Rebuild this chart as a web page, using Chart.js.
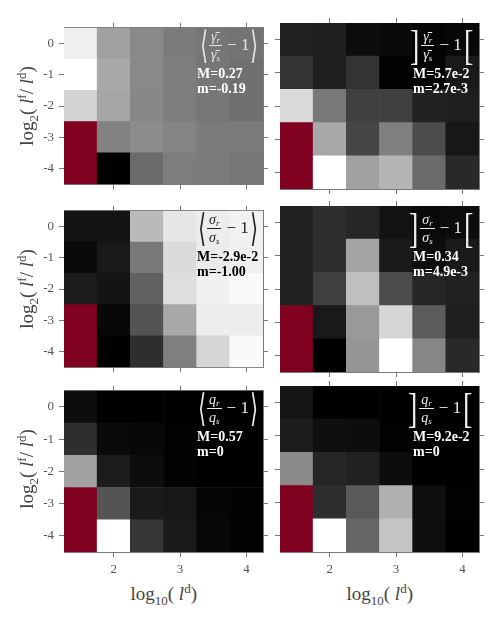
<!DOCTYPE html>
<html>
<head>
<meta charset="utf-8">
<script src="https://cdn.jsdelivr.net/npm/chart.js@4.4.1/dist/chart.umd.min.js"></script>
<style>
  html, body { margin:0; padding:0; background:#fff; }
  #wrap { position:relative; width:498px; height:618px; overflow:hidden; }
  canvas { position:absolute; }
  .formula { position:absolute; display:flex; align-items:center; font-family:'Liberation Serif', serif; white-space:nowrap; }
  .br { font-family:'DejaVu Sans', sans-serif; font-size:36px; line-height:36px; display:inline-block; transform:scale(0.55,1.05); margin:0 -4px; }
  .sq { font-family:'Liberation Serif', serif; font-size:40px; line-height:36px; display:inline-block; transform:scale(0.7,1.05); margin:0 -2px; }
  .frac { display:inline-flex; flex-direction:column; align-items:center; font-style:italic; font-size:14px; line-height:15px; margin:0 2px; }
  .frac .num { border-bottom:1px solid currentColor; padding:0 2px 1px 2px; }
  .frac .den { padding-top:1px; }
  .frac sub { font-size:9px; vertical-align:-2px; line-height:0; }
  .minus { font-size:17px; margin:0 2px 0 3px; }
  .stat { position:absolute; font-family:'Liberation Serif', serif; font-weight:bold; font-size:14px; line-height:15px; white-space:nowrap; }
  .axt { position:absolute; font-family:'Liberation Serif', serif; font-size:19px; color:#444; white-space:nowrap; }
  .axt sub { font-size:13px; vertical-align:-5px; line-height:0; }
  .axt sup { font-size:13px; vertical-align:7px; line-height:0; }
  .axt i { font-style:italic; }
</style>
</head>
<body>
<div id="wrap"></div>
<script>
// ---------------- data ----------------
const xCenters = [1.5, 2, 2.5, 3, 3.5, 4];          // log10(l^d) cell centres
const yRows = [0, -1, -2, -3, -4];                  // log2(l^f/l^d) cell centres
const xTicks = [2, 3, 4];
const yTicks = [0, -1, -2, -3, -4];

// <gamma_r/gamma_s - 1>  (null = no data)
const meanGamma = [
  [0.242, 0.100, 0.058, 0.031, 0.022, 0.017],
  [0.270, 0.114, 0.058, 0.035, 0.022, 0.012],
  [0.192, 0.109, 0.054, 0.035, 0.022, 0.012],
  [null,  0.045, 0.063, 0.049, 0.031, 0.031],
  [null, -0.190, 0.003, 0.035, 0.031, 0.022]
];
const meanGammaRange = [-0.19, 0.27];
const meanGammaLabels = ["M=0.27", "m=-0.19"];

// ]gamma_r/gamma_s - 1[
const spreadGamma = [
  [0.0098, 0.0092, 0.0054, 0.0049, 0.0038, 0.0043],
  [0.0136, 0.0092, 0.0136, 0.0032, 0.0035, 0.0081],
  [0.0489, 0.0282, 0.0163, 0.0163, 0.0098, 0.0092],
  [null,   0.0385, 0.0174, 0.0299, 0.0190, 0.0076],
  [null,   0.0570, 0.0369, 0.0413, 0.0255, 0.0114]
];
const spreadGammaRange = [0.0027, 0.057];
const spreadGammaLabels = ["M=5.7e-2", "m=2.7e-3"];

// <sigma_r/sigma_s - 1>
const meanSigma = [
  [-0.922, -0.922, -0.291, -0.126, -0.097, -0.078],
  [-0.961, -0.903, -0.544, -0.165, -0.107, -0.087],
  [-0.893, -0.922, -0.631, -0.155, -0.087, -0.048],
  [null,   -0.971, -0.680, -0.359, -0.097, -0.097],
  [null,   -1.000, -0.825, -0.515, -0.184, -0.048]
];
const meanSigmaRange = [-1.00, -0.029];
const meanSigmaLabels = ["M=-2.9e-2", "m=-1.00"];

// ]sigma_r/sigma_s - 1[
const spreadSigma = [
  [0.0485, 0.0652, 0.0552, 0.0284, 0.0183, 0.0217],
  [0.0485, 0.0652, 0.2194, 0.0384, 0.0217, 0.0384],
  [0.0485, 0.0887, 0.2562, 0.1054, 0.0552, 0.0485],
  [null,   0.0384, 0.2060, 0.2864, 0.1255, 0.0451],
  [null,   0.0049, 0.2026, 0.3400, 0.1825, 0.0585]
];
const spreadSigmaRange = [0.0049, 0.34];
const spreadSigmaLabels = ["M=0.34", "m=4.9e-3"];

// <q_r/q_s - 1>
const meanQ = [
  [0.029, 0.000, 0.000, 0.000, 0.000, 0.000],
  [0.103, 0.023, 0.017, 0.006, 0.000, 0.000],
  [0.359, 0.063, 0.029, 0.006, 0.003, 0.000],
  [null,  0.188, 0.057, 0.051, 0.011, 0.006],
  [null,  0.570, 0.120, 0.057, 0.017, 0.006]
];
const meanQRange = [0, 0.57];
const meanQLabels = ["M=0.57", "m=0"];

// ]q_r/q_s - 1[
const spreadQ = [
  [0.0074, 0.0000, 0.0000, 0.0000, 0.0000, 0.0000],
  [0.0101, 0.0055, 0.0046, 0.0009, 0.0000, 0.0000],
  [0.0497, 0.0138, 0.0120, 0.0046, 0.0000, 0.0000],
  [null,   0.0166, 0.0322, 0.0635, 0.0055, 0.0009],
  [null,   0.0920, 0.0368, 0.0708, 0.0055, 0.0000]
];
const spreadQRange = [0, 0.092];
const spreadQLabels = ["M=9.2e-2", "m=0"];

// ---------------- layout ----------------
const colL = [64, 280], plotW = 199;
const rowT = [23, 206, 386], plotH = 166;
const missingColor = '#800020';

const wrap = document.getElementById('wrap');

function grayFor(v, lo, hi) {
  if (v === null || v === undefined) return missingColor;
  let t = (v - lo) / (hi - lo);
  t = Math.max(0, Math.min(1, t));
  const g = Math.round(255 * t);
  return `rgb(${g},${g},${g})`;
}

function makePanel(values, range, col, row) {
  const showY = col === 0, showX = row === 2;
  const padL = showY ? 60 : 8, padR = 8, padT = 8, padB = showX ? 26 : 8;
  const cv = document.createElement('canvas');
  const W = plotW + padL + padR, H = plotH + padT + padB;
  cv.width = W; cv.height = H;
  cv.style.left = (colL[col] - padL) + 'px';
  cv.style.top = (rowT[row] - padT) + 'px';
  cv.style.width = W + 'px'; cv.style.height = H + 'px';
  wrap.appendChild(cv);

  const dx = xCenters[1] - xCenters[0];
  const dy = yRows[0] - yRows[1];
  const pts = [];
  yRows.forEach((yc, i) => {
    xCenters.forEach((xc, j) => {
      pts.push({ x: xc, y: [yc - dy / 2, yc + dy / 2], v: values[i][j] });
    });
  });
  const xMin = xCenters[0] - dx / 2, xMax = xCenters[xCenters.length - 1] + dx / 2;
  const yMin = yRows[yRows.length - 1] - dy / 2, yMax = yRows[0] + dy / 2;

  const tickFont = { family: "'Liberation Serif', serif", size: 13 };
  const gridCfg = { drawOnChartArea: false, drawTicks: true, tickLength: 5, color: '#777', offset: false };
  const borderCfg = { display: true, color: '#7a7a7a', width: 1 };
  const xTickSet = s => { s.ticks = xTicks.map(v => ({ value: v })); };
  const yTickSet = s => { s.ticks = yTicks.map(v => ({ value: v })); };

  new Chart(cv, {
    type: 'bar',
    data: {
      datasets: [{
        data: pts,
        backgroundColor: ctx => grayFor(ctx.raw ? ctx.raw.v : null, range[0], range[1]),
        borderWidth: 0,
        barPercentage: 1,
        categoryPercentage: 1,
        grouped: false
      }]
    },
    options: {
      responsive: false, animation: false, devicePixelRatio: 1, events: [],
      layout: { padding: 0 },
      plugins: { legend: { display: false }, tooltip: { enabled: false } },
      scales: {
        x: { type: 'linear', position: 'bottom', min: xMin, max: xMax, offset: false,
             afterBuildTicks: xTickSet, afterFit: s => { s.height = padB; },
             grid: gridCfg, border: borderCfg,
             ticks: { display: showX, font: tickFont, color: '#555', padding: 5, maxRotation: 0 } },
        x2: { type: 'linear', position: 'top', min: xMin, max: xMax, offset: false,
             afterBuildTicks: xTickSet, afterFit: s => { s.height = padT; },
             grid: gridCfg, border: borderCfg, ticks: { display: false } },
        y: { type: 'linear', position: 'left', min: yMin, max: yMax,
             afterBuildTicks: yTickSet, afterFit: s => { s.width = padL; },
             grid: gridCfg, border: borderCfg,
             ticks: { display: showY, font: tickFont, color: '#555', padding: 5 } },
        y2: { type: 'linear', position: 'right', min: yMin, max: yMax,
             afterBuildTicks: yTickSet, afterFit: s => { s.width = padR; },
             grid: gridCfg, border: borderCfg, ticks: { display: false } }
      }
    }
  });
}

function addFormula(col, row, html, color) {
  const d = document.createElement('div');
  d.className = 'formula';
  d.innerHTML = html;
  d.style.color = color;
  wrap.appendChild(d);
  const r = colL[col] + plotW;
  d.style.left = (r - 6 - d.offsetWidth) + 'px';
  d.style.top = (rowT[row] + 4) + 'px';
}
function addStats(col, row, labels, color) {
  const d = document.createElement('div');
  d.className = 'stat';
  d.innerHTML = labels[0] + '<br>' + labels[1];
  d.style.color = color;
  d.style.left = (colL[col] + plotW - 66) + 'px';
  d.style.top = (rowT[row] + 43) + 'px';
  wrap.appendChild(d);
}

const frac = (n, s, bar) =>
  `<span class="frac"><span class="num">${n}${bar}<sub>r</sub></span><span class="den">${n}${bar}<sub>s</sub></span></span>`;
const meanF = (n, bar) => `<span class="br">⟨</span>${frac(n, n === 'q' ? '' : '', bar)}<span class="minus">− 1</span><span class="br">⟩</span>`;
const spreadF = (n, bar) => `<span class="sq">]</span>${frac(n, '', bar)}<span class="minus">− 1</span><span class="sq">[</span>`;

const panels = [
  [meanGamma, meanGammaRange, meanGammaLabels, 0, 0, meanF('γ', '\u0304'), '#e4e4e4', '#fff'],
  [spreadGamma, spreadGammaRange, spreadGammaLabels, 1, 0, spreadF('γ', '\u0304'), '#eee', '#fff'],
  [meanSigma, meanSigmaRange, meanSigmaLabels, 0, 1, meanF('σ', ''), '#222', '#000'],
  [spreadSigma, spreadSigmaRange, spreadSigmaLabels, 1, 1, spreadF('σ', ''), '#eee', '#fff'],
  [meanQ, meanQRange, meanQLabels, 0, 2, meanF('q', ''), '#eee', '#fff'],
  [spreadQ, spreadQRange, spreadQLabels, 1, 2, spreadF('q', ''), '#eee', '#fff']
];
panels.forEach(p => {
  makePanel(p[0], p[1], p[3], p[4]);
  addFormula(p[3], p[4], p[5], p[6]);
  addStats(p[3], p[4], p[2], p[7]);
});

// axis titles
rowT.forEach(t => {
  const d = document.createElement('div');
  d.className = 'axt';
  d.innerHTML = 'log<sub>2</sub>( <i>l</i><sup>f</sup>/ <i>l</i><sup>d</sup>)';
  wrap.appendChild(d);
  const w = d.offsetWidth, h = d.offsetHeight;
  d.style.left = (27 - w / 2) + 'px';
  d.style.top = (t + plotH / 2 - h / 2) + 'px';
  d.style.transform = 'rotate(-90deg)';
});
colL.forEach(l => {
  const d = document.createElement('div');
  d.className = 'axt';
  d.innerHTML = 'log<sub>10</sub>( <i>l</i><sup>d</sup>)';
  wrap.appendChild(d);
  const w = d.offsetWidth, h = d.offsetHeight;
  d.style.left = (l + plotW / 2 - w / 2) + 'px';
  d.style.top = (594 - h / 2) + 'px';
});
</script>
</body>
</html>
